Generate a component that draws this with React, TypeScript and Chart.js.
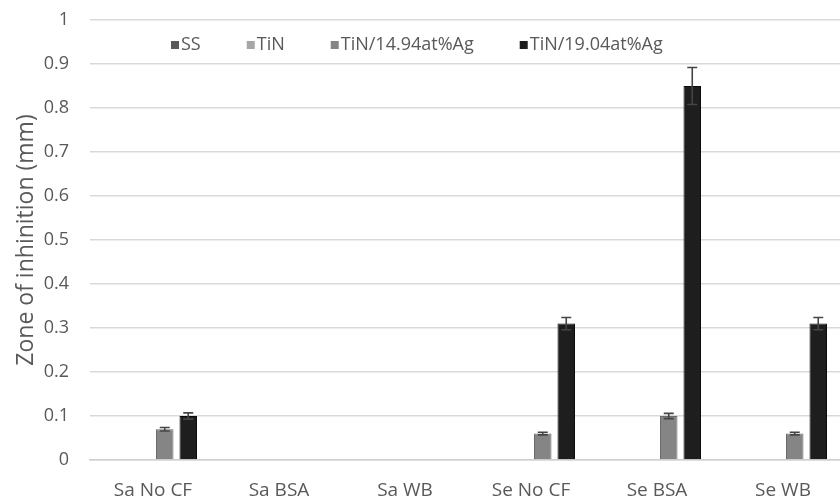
import React, { useEffect, useRef } from "react";
import { Chart, registerables } from "chart.js";

Chart.register(...registerables);

const categories = ["Sa No CF", "Sa BSA", "Sa WB", "Se No CF", "Se BSA", "Se WB"];
const seriesNames = ["SS", "TiN", "TiN/14.94at%Ag", "TiN/19.04at%Ag"];
const ssValues = [0, 0, 0, 0, 0, 0];
const tinValues = [0, 0, 0, 0, 0, 0];
const ag1494Values = [0.07, 0, 0, 0.06, 0.1, 0.06];
const ag1904Values = [0.1, 0, 0, 0.31, 0.85, 0.31];
const ag1494Errors = [0.004, 0, 0, 0.003, 0.006, 0.003];
const ag1904Errors = [0.007, 0, 0, 0.014, 0.042, 0.014];
const yTicks = [0, 0.1, 0.2, 0.3, 0.4, 0.5, 0.6, 0.7, 0.8, 0.9, 1];

const fills = ["#595959", "#a6a6a6", "#858585", "#1e1e1e"];
const borders = ["#404040", "#8c8c8c", "#6a6a6a", "#0a0a0a"];
const FONT = "'Open Sans', sans-serif";
const TEXT = "#595959";

// Whiskers for series that carry an error array
const errorBarPlugin = {
  id: "errorBars",
  afterDatasetsDraw(chart: any) {
    const { ctx } = chart;
    const y = chart.scales.y;
    chart.data.datasets.forEach((ds: any, di: number) => {
      if (!ds.errors) return;
      const meta = chart.getDatasetMeta(di);
      meta.data.forEach((bar: any, i: number) => {
        const v = ds.data[i];
        const e = ds.errors[i];
        if (!v) return;
        const top = y.getPixelForValue(v + e);
        const bot = y.getPixelForValue(v - e);
        ctx.save();
        ctx.strokeStyle = "#454545";
        ctx.lineWidth = 1.6;
        ctx.beginPath();
        ctx.moveTo(bar.x, top);
        ctx.lineTo(bar.x, bot);
        ctx.moveTo(bar.x - 5, top);
        ctx.lineTo(bar.x + 5, top);
        ctx.moveTo(bar.x - 5, bot);
        ctx.lineTo(bar.x + 5, bot);
        ctx.stroke();
        ctx.restore();
      });
    });
  },
};

// Horizontal legend laid over the top band of the plot
const innerLegendPlugin = {
  id: "innerLegend",
  afterDraw(chart: any) {
    const { ctx, chartArea } = chart;
    ctx.save();
    ctx.font = `18px ${FONT}`;
    ctx.textBaseline = "middle";
    let x = chartArea.left + 81;
    const yMid = chartArea.top + 25;
    chart.data.datasets.forEach((ds: any) => {
      ctx.fillStyle = ds.backgroundColor;
      ctx.fillRect(x, yMid - 4, 8, 8);
      x += 10;
      ctx.fillStyle = TEXT;
      ctx.fillText(ds.label, x, yMid);
      x += ctx.measureText(ds.label).width + 46;
    });
    ctx.restore();
  },
};

export default function App() {
  const ref = useRef<HTMLCanvasElement>(null);

  useEffect(() => {
    if (!ref.current) return;
    const values = [ssValues, tinValues, ag1494Values, ag1904Values];
    const errors = [null, null, ag1494Errors, ag1904Errors];
    const chart = new Chart(ref.current, {
      type: "bar",
      data: {
        labels: categories,
        datasets: seriesNames.map((name, i) => ({
          label: name,
          data: values[i],
          errors: errors[i],
          backgroundColor: fills[i],
          borderColor: borders[i],
          borderWidth: 1,
          categoryPercentage: 0.746,
          barPercentage: 0.745,
        })) as any,
      },
      options: {
        animation: false,
        responsive: true,
        maintainAspectRatio: false,
        layout: { padding: { top: 20, right: 4, left: 0, bottom: 0 } },
        plugins: {
          legend: { display: false },
          tooltip: { enabled: false },
        },
        scales: {
          x: {
            grid: { display: false, drawTicks: false },
            border: { display: true, color: "#d0d0d0", width: 1.5 },
            ticks: { color: TEXT, font: { family: FONT, size: 19 }, padding: 19, maxRotation: 0 },
            afterFit(scale: any) {
              scale.height = 39;
              scale.paddingLeft = 0;
              scale.paddingRight = 0;
            },
          },
          y: {
            min: 0,
            max: 1,
            afterBuildTicks(scale: any) {
              scale.ticks = yTicks.map((v) => ({ value: v }));
            },
            grid: { color: "#d9d9d9", lineWidth: 1.5, drawTicks: false },
            border: { display: false },
            ticks: {
              color: TEXT,
              font: { family: FONT, size: 18 },
              padding: 21,
              callback: (v: any) => String(Number(Number(v).toFixed(1))),
            },
            title: {
              display: true,
              text: "Zone of inhinition (mm)",
              color: TEXT,
              font: { family: FONT, size: 23 },
              padding: { top: 13, bottom: 0 },
            },
            afterFit(scale: any) {
              scale.width = 90;
              scale.paddingTop = 0;
              scale.paddingBottom = 0;
            },
          },
        },
      },
      plugins: [errorBarPlugin, innerLegendPlugin],
    });
    return () => chart.destroy();
  }, []);

  return (
    <div
      style={{
        position: "fixed",
        left: 0,
        top: 0,
        width: 840,
        height: 499,
        overflow: "hidden",
        background: "#ffffff",
      }}
    >
      <div style={{ position: "relative", width: 850, height: 499 }}>
        <canvas ref={ref} />
      </div>
    </div>
  );
}
